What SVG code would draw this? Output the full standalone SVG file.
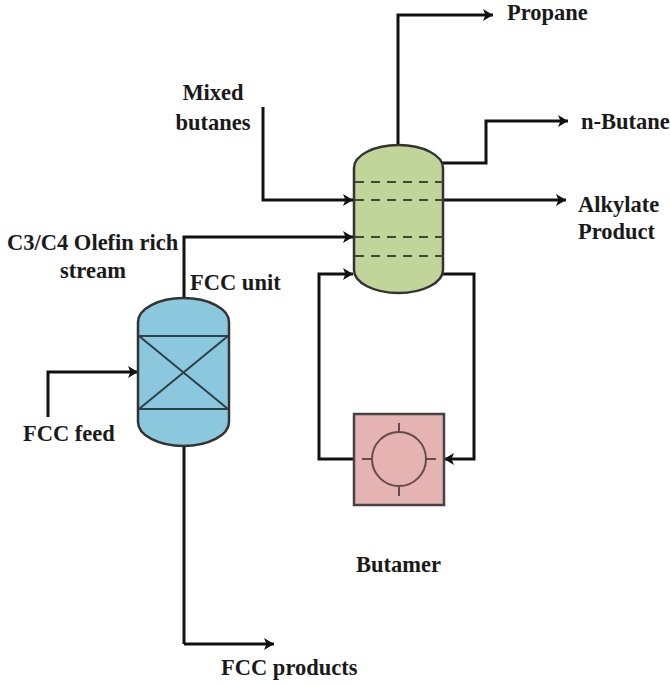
<svg xmlns="http://www.w3.org/2000/svg" width="670" height="685" viewBox="0 0 670 685">
<style>
text{font-family:"Liberation Serif","Times New Roman",serif;font-weight:bold;font-size:22.5px;fill:#1a1a1a}
.c{fill:none;stroke:#111;stroke-width:3}
.v{stroke:#333;stroke-width:2.5}
.i{fill:none;stroke:#2c4046;stroke-width:2}
.d{stroke:#3e4a30;stroke-width:2;stroke-dasharray:9 7;fill:none}
</style>
<defs>
<marker id="a" markerUnits="userSpaceOnUse" markerWidth="11" markerHeight="12" refX="10" refY="6" orient="auto"><path d="M0 0L10 6L0 12L2.5 6Z" fill="#111"/></marker>
</defs>
<g id="connectors">
<path class="c" marker-end="url(#a)" d="M398 145V15H493"/>
<path class="c" marker-end="url(#a)" d="M442 163H486V121H568"/>
<path class="c" marker-end="url(#a)" d="M442 200H566"/>
<path class="c" marker-end="url(#a)" d="M263 107V200H353"/>
<path class="c" marker-end="url(#a)" d="M184 298V237H353"/>
<path class="c" marker-end="url(#a)" d="M48 417V372H138"/>
<path class="c" d="M184 444V644"/>
<path class="c" marker-end="url(#a)" d="M184 644H274"/>
<path class="c" marker-end="url(#a)" d="M353 459H319V274H353"/>
<path class="c" marker-end="url(#a)" d="M442 274H474V459H444"/>
</g>
<g id="column">
<path class="v" fill="#c1d59a" d="M354 168A44.5 23 0 0 1 443 168V270A44.5 23 0 0 1 354 270Z"/>
<path class="d" d="M355 182H443M355 200H443M355 237H443M355 256H443"/>
</g>
<g id="fcc-unit">
<path class="v" fill="#8bc8dd" d="M138 322A45.5 24 0 0 1 229 322V422A45.5 24 0 0 1 138 422Z"/>
<path class="i" d="M139 336H228M139 409H228M139 336L228 409M139 409L228 336"/>
</g>
<g id="butamer">
<rect x="354" y="414" width="90" height="91" fill="#e6b3b3" stroke="#444" stroke-width="2.5"/>
<g fill="none" stroke="#654c4c" stroke-width="2"><circle cx="399" cy="459" r="27"/><path d="M399 423V432M399 486V496M362 459H372M426 459H436"/></g>
</g>
<g id="labels">
<text x="213" y="100" text-anchor="middle">Mixed</text>
<text x="213" y="130" text-anchor="middle">butanes</text>
<text x="507" y="20">Propane</text>
<text x="581" y="129">n-Butane</text>
<text x="578" y="212">Alkylate</text>
<text x="578" y="239">Product</text>
<text x="7" y="250">C3/C4 Olefin rich</text>
<text x="93" y="278" text-anchor="middle">stream</text>
<text x="190" y="290">FCC unit</text>
<text x="23" y="441">FCC feed</text>
<text x="356" y="572">Butamer</text>
<text x="221" y="675">FCC products</text>
</g>
</svg>
